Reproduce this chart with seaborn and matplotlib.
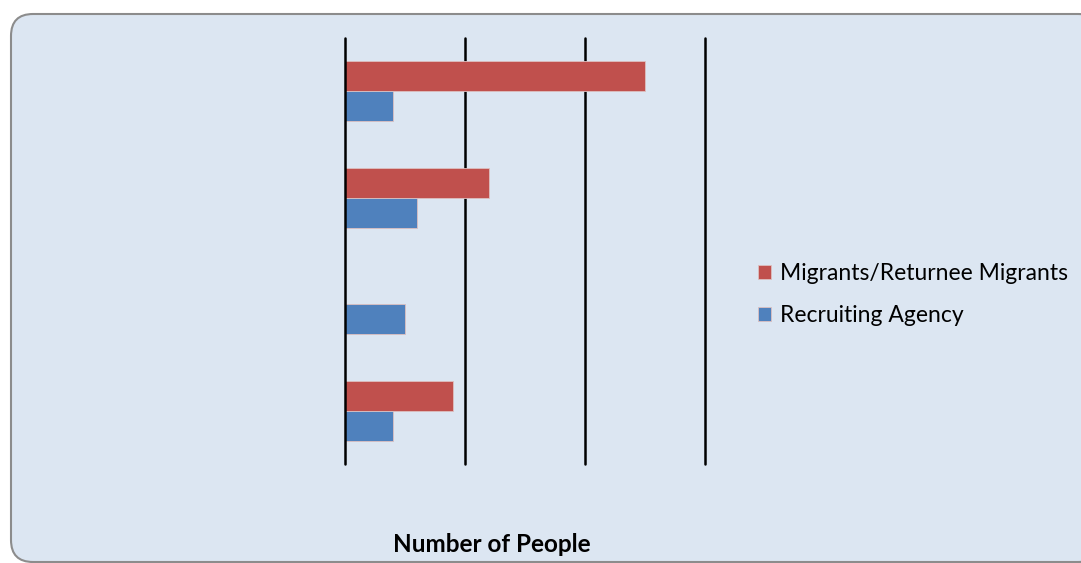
import matplotlib
matplotlib.use("Agg")
import matplotlib.pyplot as plt
from matplotlib.patches import FancyBboxPatch
from matplotlib.transforms import IdentityTransform
import seaborn as sns
import pandas as pd

categories = ["Group A", "Group B", "Group C", "Group D"]
migrants = [25, 12, 0, 9]
agency = [4, 6, 5, 4]
series_names = ["Migrants/Returnee Migrants", "Recruiting Agency"]
x_ticks = [0, 10, 20, 30]

rows = []
for c, m, a in zip(categories, migrants, agency):
    rows.append({"cat": c, "series": series_names[0], "value": m})
    rows.append({"cat": c, "series": series_names[1], "value": a})
df = pd.DataFrame(rows)

sns.set_theme(style="white")
plt.rcParams['font.family'] = ['Lato', 'DejaVu Sans']
plt.rcParams['text.color'] = 'black'

fig = plt.figure(figsize=(10.81, 5.63), dpi=100)
fig.patch.set_facecolor("white")
bg = FancyBboxPatch((11, 1), 1089, 548, boxstyle="round,pad=0,rounding_size=22",
                    transform=IdentityTransform(), facecolor="#DCE6F2", edgecolor="#8C8C8C",
                    linewidth=1.5, zorder=-5)
fig.patches.append(bg)

ax = fig.add_axes([345/1081, 1 - 464/563, 360/1081, 426/563])
ax.set_facecolor("none")
sns.barplot(data=df, y="cat", x="value", hue="series", orient="h", ax=ax,
            palette=["#C0504D", "#4F81BD"], width=0.56, dodge=True, saturation=1,
            edgecolor="#DDC0C0", linewidth=0.6, legend=True, zorder=3)
ax.set_xlim(0, 30)
ax.set_ylim(3.5, -0.5)
for s in ax.spines.values():
    s.set_visible(False)
for t in x_ticks:
    ax.axvline(t, color="black", linewidth=1.8, zorder=4 if t == 0 else 1, clip_on=False)
ax.set_xticks(x_ticks)
ax.set_xticklabels([])
ax.set_yticks(range(len(categories)))
ax.set_yticklabels([])
ax.tick_params(length=0)
ax.set_xlabel("")
ax.set_ylabel("")

h, l = ax.get_legend_handles_labels()
ax.get_legend().remove()
fig.legend(h, l, loc="upper left", bbox_to_anchor=(749/1081, 1 - 254/563), frameon=False,
           fontsize=16.5, handlelength=0.55, handleheight=0.55, handletextpad=0.4, labelspacing=0.9,
           borderaxespad=0, borderpad=0.4)

fig.text(492/1081, 1 - 545/563, "Number of People", ha="center", va="center",
         fontsize=17.5, fontweight="bold")

fig.savefig("out.png", dpi=100)
